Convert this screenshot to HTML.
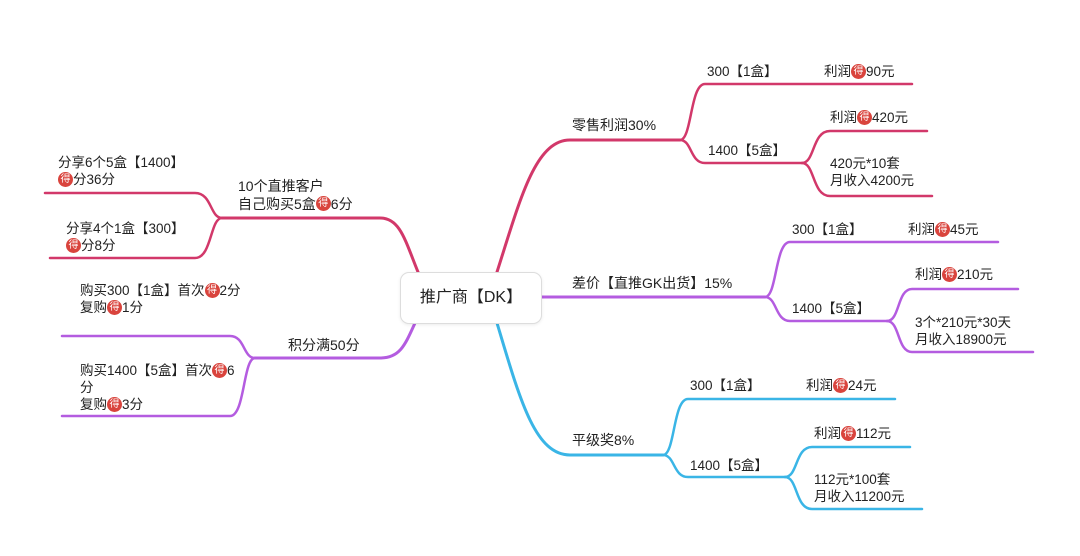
<!DOCTYPE html>
<html><head><meta charset="utf-8"><style>
body{margin:0;width:1080px;height:556px;background:#fff;overflow:hidden;position:relative;font-family:"Liberation Sans","Noto Sans CJK SC",sans-serif;color:#222}
svg{position:absolute;left:0;top:0}
.t{position:absolute;font-size:13.5px;line-height:17px;white-space:nowrap}
.b{font-size:14px}
.d{display:inline-block;width:15px;height:15px;border-radius:50%;background:#d9443d;color:#fff;font-size:10px;line-height:15px;text-align:center;vertical-align:top;margin-top:1px}
.box{position:absolute;left:400px;top:272px;width:140px;height:50px;border:1px solid #ddd;border-radius:9px;background:#fff;font-size:16px;line-height:50px;text-align:center;box-shadow:0 1px 3px rgba(0,0,0,.08)}
</style></head><body>
<svg width="1080" height="556" fill="none" stroke-linecap="round">
<g stroke="#d2386a" stroke-width="3">
<path d="M497,272 C520,200 535,140 570,140 L680,140"/>
<path d="M680,140 C692,140 690,84 705,84 L912,84" stroke-width="2.5"/>
<path d="M680,140 C692,140 690,163 705,163 L802,163" stroke-width="2.5"/>
<path d="M802,163 C815,163 812,131 830,131 L927,131" stroke-width="2.5"/>
<path d="M802,163 C815,163 812,196 830,196 L932,196" stroke-width="2.5"/>
<path d="M418,272 C405,240 400,218 380,218 L222,218"/>
<path d="M222,218 C210,218 212,193 195,193 L45,193" stroke-width="2.5"/>
<path d="M222,218 C210,218 212,258 195,258 L50,258" stroke-width="2.5"/>
</g>
<g stroke="#b45ce0" stroke-width="3">
<path d="M541,297 L765,297"/>
<path d="M765,297 C777,297 775,242 790,242 L998,242" stroke-width="2.5"/>
<path d="M765,297 C777,297 775,321 790,321 L887,321" stroke-width="2.5"/>
<path d="M887,321 C900,321 897,289 912,289 L1018,289" stroke-width="2.5"/>
<path d="M887,321 C900,321 897,352 912,352 L1033,352" stroke-width="2.5"/>
<path d="M415,323 C405,345 400,358 380,358 L255,358"/>
<path d="M255,358 C243,358 245,336 230,336 L62,336" stroke-width="2.5"/>
<path d="M255,358 C243,358 245,416 230,416 L62,416" stroke-width="2.5"/>
</g>
<g stroke="#3ab5e6" stroke-width="3">
<path d="M497,323 C520,400 535,455 570,455 L663,455"/>
<path d="M663,455 C675,455 673,399 688,399 L895,399" stroke-width="2.5"/>
<path d="M663,455 C675,455 673,477 688,477 L785,477" stroke-width="2.5"/>
<path d="M785,477 C798,477 795,447 812,447 L910,447" stroke-width="2.5"/>
<path d="M785,477 C798,477 795,509 812,509 L922,509" stroke-width="2.5"/>
</g>
</svg>
<div class="box">推广商【DK】</div>
<div class="t b" style="left:572px;top:117px">零售利润30%</div>
<div class="t" style="left:707px;top:63px">300【1盒】</div>
<div class="t" style="left:824px;top:63px">利润<span class="d">得</span>90元</div>
<div class="t" style="left:708px;top:142px">1400【5盒】</div>
<div class="t" style="left:830px;top:109px">利润<span class="d">得</span>420元</div>
<div class="t" style="left:830px;top:155px">420元*10套<br>月收入4200元</div>
<div class="t b" style="left:572px;top:275px">差价【直推GK出货】15%</div>
<div class="t" style="left:792px;top:221px">300【1盒】</div>
<div class="t" style="left:908px;top:221px">利润<span class="d">得</span>45元</div>
<div class="t" style="left:792px;top:300px">1400【5盒】</div>
<div class="t" style="left:915px;top:266px">利润<span class="d">得</span>210元</div>
<div class="t" style="left:915px;top:314px">3个*210元*30天<br>月收入18900元</div>
<div class="t b" style="left:572px;top:432px">平级奖8%</div>
<div class="t" style="left:690px;top:377px">300【1盒】</div>
<div class="t" style="left:806px;top:377px">利润<span class="d">得</span>24元</div>
<div class="t" style="left:690px;top:457px">1400【5盒】</div>
<div class="t" style="left:814px;top:425px">利润<span class="d">得</span>112元</div>
<div class="t" style="left:814px;top:471px">112元*100套<br>月收入11200元</div>
<div class="t b" style="left:238px;top:177px;line-height:18px">10个直推客户<br>自己购买5盒<span class="d">得</span>6分</div>
<div class="t" style="left:58px;top:154px">分享6个5盒【1400】<br><span class="d">得</span>分36分</div>
<div class="t" style="left:66px;top:220px">分享4个1盒【300】<br><span class="d">得</span>分8分</div>
<div class="t b" style="left:288px;top:337px">积分满50分</div>
<div class="t" style="left:80px;top:282px">购买300【1盒】首次<span class="d">得</span>2分<br>复购<span class="d">得</span>1分</div>
<div class="t" style="left:80px;top:362px">购买1400【5盒】首次<span class="d">得</span>6<br>分<br>复购<span class="d">得</span>3分</div>
</body></html>
